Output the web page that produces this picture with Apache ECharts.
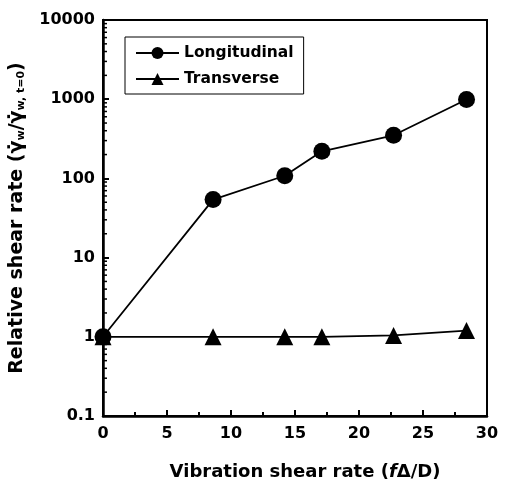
<!DOCTYPE html>
<html><head><meta charset="utf-8">
<script src="https://cdn.jsdelivr.net/npm/echarts@6/dist/echarts.min.js"></script>
<style>html,body{margin:0;padding:0;background:#fff}#c{width:518px;height:489px}</style>
</head><body><div id="c"></div>
<script>
var xValues = [0, 8.6, 14.2, 17.1, 22.7, 28.4];
var longitudinal = [1, 54, 108, 220, 350, 990];
var transverse = [1, 1, 1, 1, 1.04, 1.2];
var seriesNames = ['Longitudinal', 'Transverse'];
var yTickLabels = ['0.1', '1', '10', '100', '1000', '10000'];

var minorY = [];
for (var d = 0.1; d < 10000; d *= 10) { for (var k = 2; k <= 9; k++) minorY.push(+(d * k).toPrecision(3)); }

var chart = echarts.init(document.getElementById('c'), null, {renderer: 'canvas'});
var font = 'DejaVu Sans, Liberation Sans, sans-serif';
function pairs(ys) { return xValues.map(function (x, i) { return [x, ys[i]]; }); }

chart.setOption({
  animation: false,
  backgroundColor: '#fff',
  grid: {left: 103, right: 31, top: 20, bottom: 73, show: true, borderColor: '#000', borderWidth: 2, backgroundColor: 'transparent'},
  legend: {
    orient: 'vertical', left: 125, top: 37, padding: [8, 10, 7, 10],
    borderColor: '#000', borderWidth: 1, itemWidth: 43, itemHeight: 15, itemGap: 10,
    textStyle: {fontFamily: font, fontWeight: 'bold', fontSize: 15.5, color: '#000'},
    data: seriesNames
  },
  xAxis: {
    type: 'value', min: 0, max: 30, interval: 5,
    axisLine: {lineStyle: {color: '#000', width: 2.5}},
    axisTick: {inside: true, length: 6, lineStyle: {color: '#000', width: 2}},
    minorTick: {show: true, splitNumber: 2, length: 4, lineStyle: {color: '#000', width: 2}},
    splitLine: {show: false},
    axisLabel: {fontFamily: font, fontWeight: 'bold', fontSize: 16, color: '#000', margin: 10},
    name: 'Vibration shear rate ({i|f}Δ/D)', nameLocation: 'middle', nameGap: 47,
    nameTextStyle: {fontFamily: font, fontWeight: 'bold', fontSize: 18, color: '#000', padding: [0, 0, 0, 20],
      rich: {i: {fontFamily: font, fontWeight: 'bold', fontStyle: 'italic', fontSize: 18, color: '#000'}}}
  },
  yAxis: {
    type: 'log', logBase: 10, min: 0.1, max: 10000,
    axisLine: {lineStyle: {color: '#000', width: 2.5}},
    axisTick: {inside: true, length: 6, lineStyle: {color: '#000', width: 2}},
    splitLine: {show: false},
    axisLabel: {fontFamily: font, fontWeight: 'bold', fontSize: 16, color: '#000', margin: 8,
      formatter: function (v) { var s = String(+v.toPrecision(3)); return yTickLabels.indexOf(s) >= 0 ? s : ''; }},
    name: 'Relative shear rate (γ̇{s|w}/γ̇{s|w, t=0})', nameLocation: 'middle', nameGap: 76,
    nameTextStyle: {fontFamily: font, fontWeight: 'bold', fontSize: 19, color: '#000',
      rich: {s: {fontFamily: font, fontWeight: 'bold', fontSize: 11, color: '#000', verticalAlign: 'bottom', padding: [8, 0, 0, 0]}}}
  },
  series: [
    {name: seriesNames[0], type: 'line', data: pairs(longitudinal), symbol: 'circle', symbolSize: 17,
     itemStyle: {color: '#000'}, lineStyle: {color: '#000', width: 1.8}, z: 3},
    {name: seriesNames[1], type: 'line', data: pairs(transverse), symbol: 'triangle', symbolSize: 17,
     itemStyle: {color: '#000'}, lineStyle: {color: '#000', width: 1.8}, z: 2},
    {type: 'custom', silent: true, clip: false, data: minorY.map(function (v) { return [0, v]; }),
     renderItem: function (params, api) {
       var p = api.coord([0, api.value(1)]);
       return {type: 'line', shape: {x1: p[0], y1: p[1], x2: p[0] + 4, y2: p[1]}, style: {stroke: '#000', lineWidth: 1.5}};
     }}
  ]
});
</script></body></html>
